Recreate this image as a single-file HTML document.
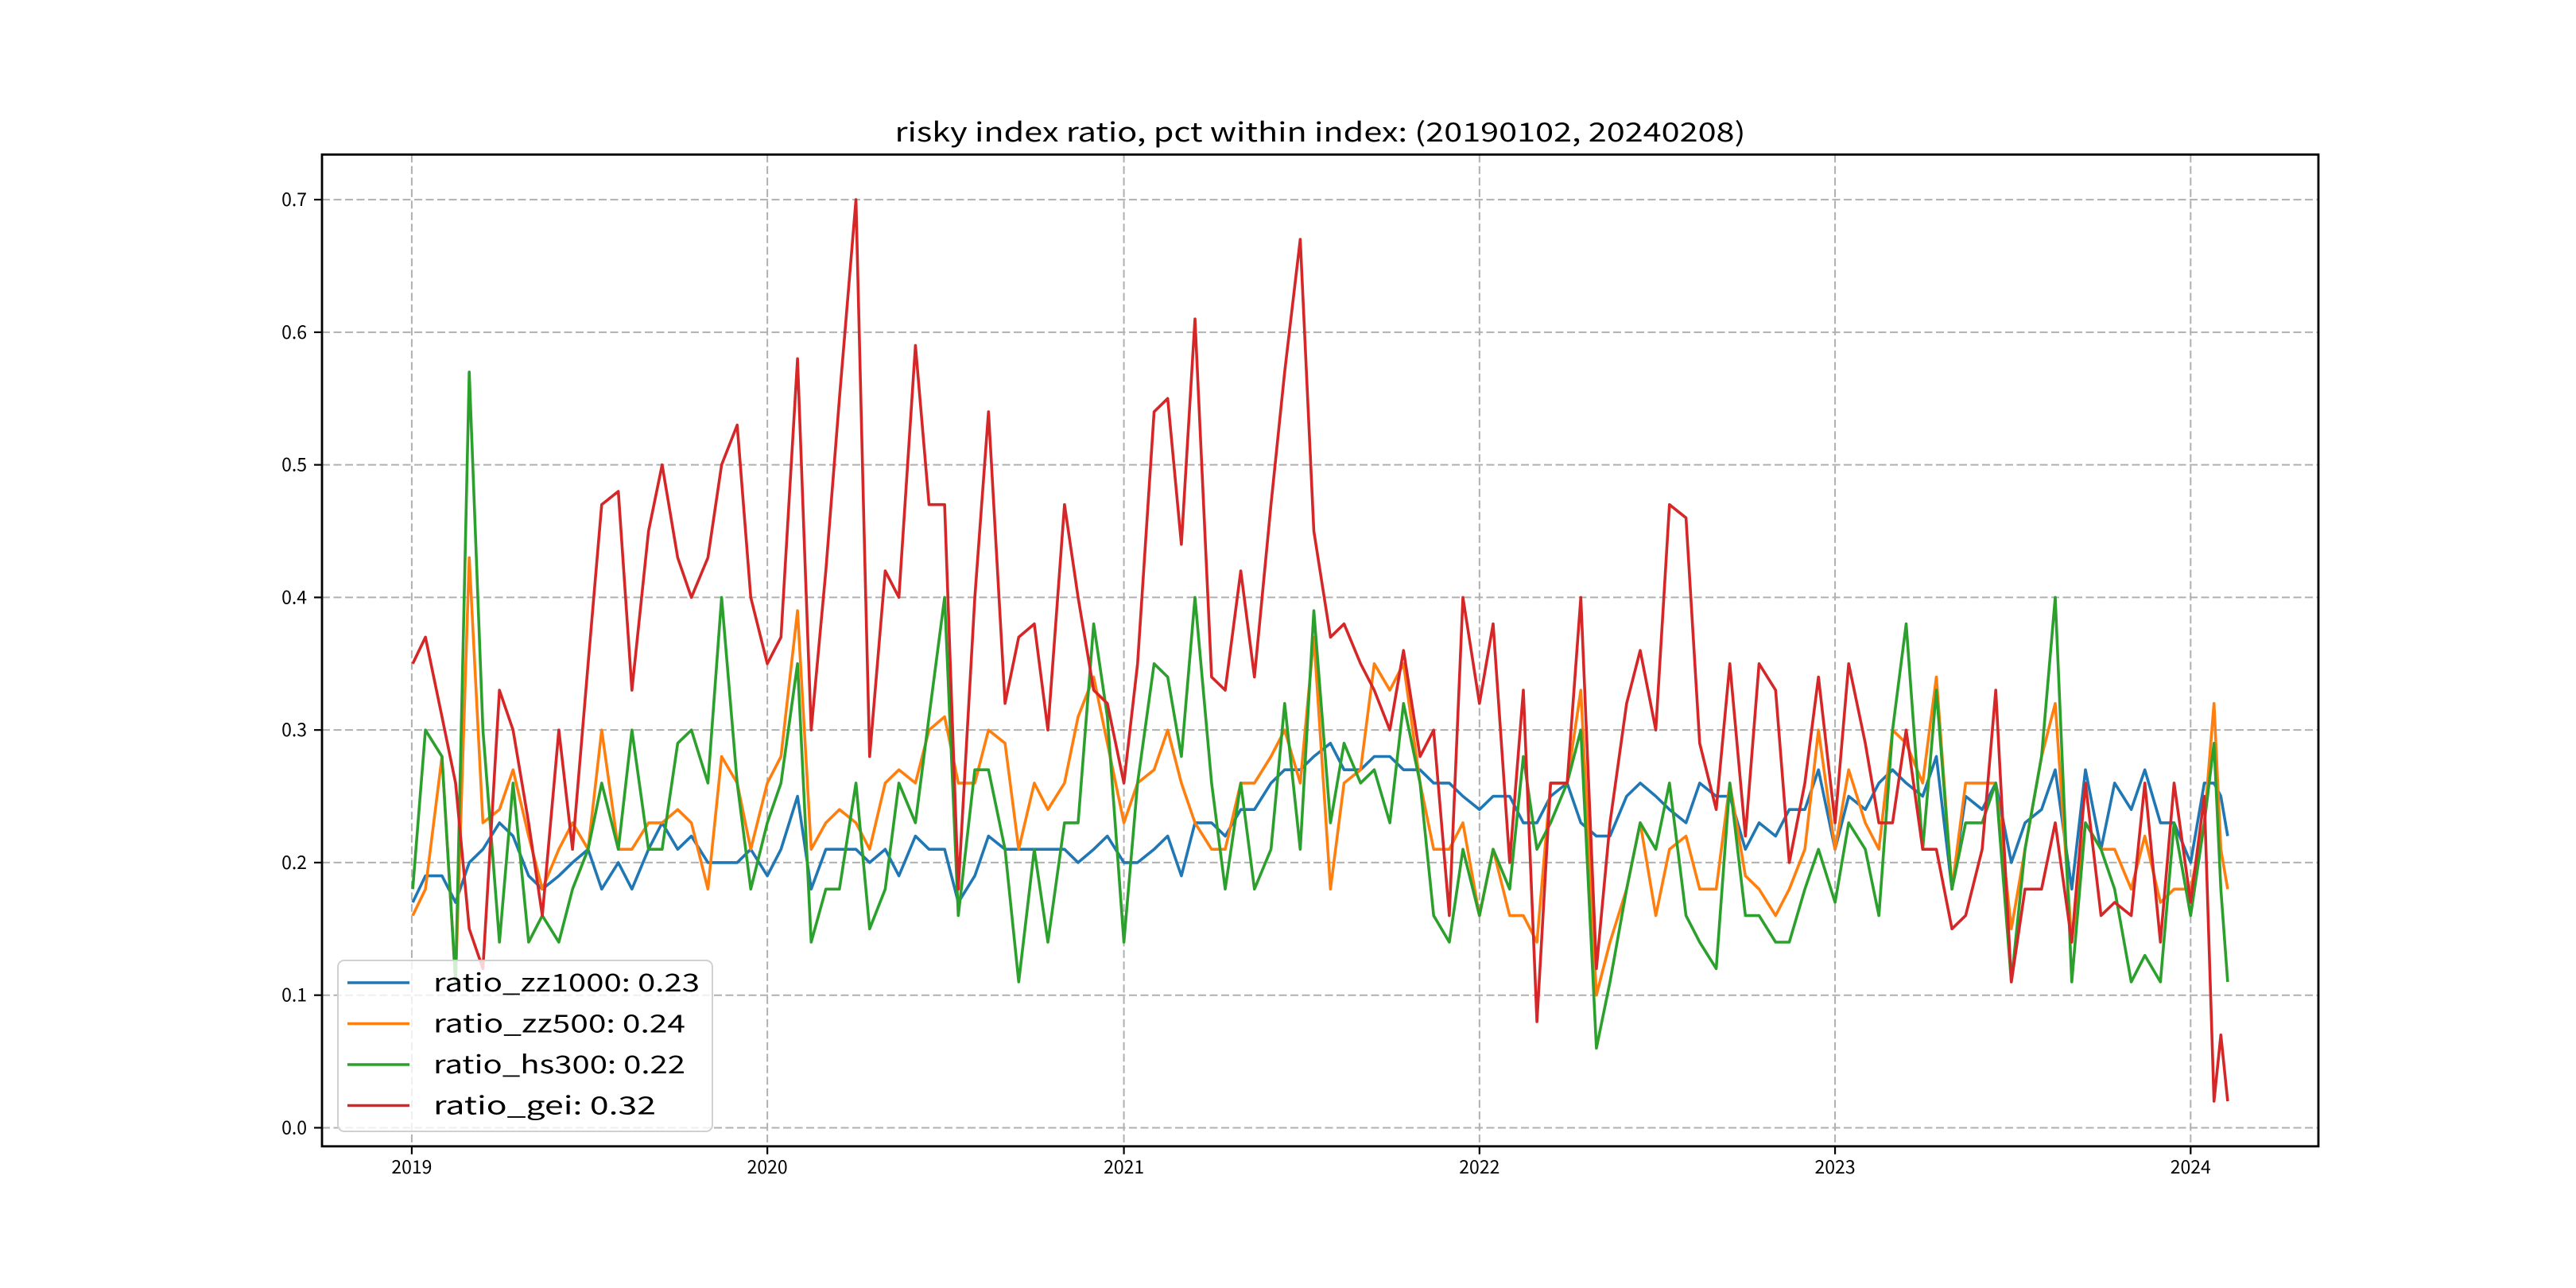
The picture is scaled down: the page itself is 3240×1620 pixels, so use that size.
<!DOCTYPE html>
<html><head><meta charset="utf-8"><title>risky index ratio</title>
<style>
html,body{margin:0;padding:0;background:#fff;}
svg{display:block;}
text{font-family:"WenQuanYi Zen Hei","Noto Sans CJK SC","Liberation Sans",sans-serif;fill:#000;}
</style></head>
<body>
<svg id="chart" xmlns="http://www.w3.org/2000/svg" width="3240" height="1620" viewBox="0 0 3240 1620">
  <rect x="0" y="0" width="3240" height="1620" fill="#fff"/>
  <g id="grid"></g>
  <g id="series"></g>
  <rect x="405" y="194.4" width="2511" height="1247.4" fill="none" stroke="#000" stroke-width="2.8"/>
  <g id="axes"></g>
  <text x="1660.5" y="178" font-size="33" text-anchor="middle" textLength="1070" lengthAdjust="spacingAndGlyphs">risky index ratio, pct within index: (20190102, 20240208)</text>
  <g id="legend"></g>
</svg>
<script>
// ---- data ----
const years = [2019, 2020, 2021, 2022, 2023];
const tailDates = ["2024-01-01", "2024-01-15", "2024-01-25", "2024-02-01", "2024-02-08"];
const seriesNames = ["ratio_zz1000", "ratio_zz500", "ratio_hs300", "ratio_gei"];
const seriesMeans = ["0.23", "0.24", "0.22", "0.32"];
const zz1000 = [
0.17,0.19,0.19,0.17,0.20,0.21,0.23,0.22,0.19,0.18,0.19,0.20,0.21,0.18,0.20,0.18,0.21,0.23,0.21,0.22,0.20,0.20,0.20,0.21,
0.19,0.21,0.25,0.18,0.21,0.21,0.21,0.20,0.21,0.19,0.22,0.21,0.21,0.17,0.19,0.22,0.21,0.21,0.21,0.21,0.21,0.20,0.21,0.22,
0.20,0.20,0.21,0.22,0.19,0.23,0.23,0.22,0.24,0.24,0.26,0.27,0.27,0.28,0.29,0.27,0.27,0.28,0.28,0.27,0.27,0.26,0.26,0.25,
0.24,0.25,0.25,0.23,0.23,0.25,0.26,0.23,0.22,0.22,0.25,0.26,0.25,0.24,0.23,0.26,0.25,0.25,0.21,0.23,0.22,0.24,0.24,0.27,
0.21,0.25,0.24,0.26,0.27,0.26,0.25,0.28,0.18,0.25,0.24,0.26,0.20,0.23,0.24,0.27,0.18,0.27,0.21,0.26,0.24,0.27,0.23,0.23,
0.20,0.26,0.26,0.25,0.22];
const zz500 = [
0.16,0.18,0.28,0.11,0.43,0.23,0.24,0.27,0.22,0.18,0.21,0.23,0.21,0.30,0.21,0.21,0.23,0.23,0.24,0.23,0.18,0.28,0.26,0.21,
0.26,0.28,0.39,0.21,0.23,0.24,0.23,0.21,0.26,0.27,0.26,0.30,0.31,0.26,0.26,0.30,0.29,0.21,0.26,0.24,0.26,0.31,0.34,0.29,
0.23,0.26,0.27,0.30,0.26,0.23,0.21,0.21,0.26,0.26,0.28,0.30,0.26,0.37,0.18,0.26,0.27,0.35,0.33,0.35,0.26,0.21,0.21,0.23,
0.16,0.21,0.16,0.16,0.14,0.26,0.26,0.33,0.10,0.14,0.18,0.23,0.16,0.21,0.22,0.18,0.18,0.26,0.19,0.18,0.16,0.18,0.21,0.30,
0.21,0.27,0.23,0.21,0.30,0.29,0.26,0.34,0.18,0.26,0.26,0.26,0.15,0.21,0.28,0.32,0.14,0.23,0.21,0.21,0.18,0.22,0.17,0.18,
0.18,0.23,0.32,0.21,0.18];
const hs300 = [
0.18,0.30,0.28,0.11,0.57,0.30,0.14,0.26,0.14,0.16,0.14,0.18,0.21,0.26,0.21,0.30,0.21,0.21,0.29,0.30,0.26,0.40,0.26,0.18,
0.23,0.26,0.35,0.14,0.18,0.18,0.26,0.15,0.18,0.26,0.23,0.31,0.40,0.16,0.27,0.27,0.21,0.11,0.21,0.14,0.23,0.23,0.38,0.31,
0.14,0.26,0.35,0.34,0.28,0.40,0.26,0.18,0.26,0.18,0.21,0.32,0.21,0.39,0.23,0.29,0.26,0.27,0.23,0.32,0.26,0.16,0.14,0.21,
0.16,0.21,0.18,0.28,0.21,0.23,0.26,0.30,0.06,0.11,0.18,0.23,0.21,0.26,0.16,0.14,0.12,0.26,0.16,0.16,0.14,0.14,0.18,0.21,
0.17,0.23,0.21,0.16,0.30,0.38,0.21,0.33,0.18,0.23,0.23,0.26,0.11,0.21,0.28,0.40,0.11,0.23,0.21,0.18,0.11,0.13,0.11,0.23,
0.16,0.23,0.29,0.18,0.11];
const gei = [
0.35,0.37,0.31,0.26,0.15,0.12,0.33,0.30,0.23,0.16,0.30,0.21,0.35,0.47,0.48,0.33,0.45,0.50,0.43,0.40,0.43,0.50,0.53,0.40,
0.35,0.37,0.58,0.30,0.42,0.55,0.70,0.28,0.42,0.40,0.59,0.47,0.47,0.18,0.40,0.54,0.32,0.37,0.38,0.30,0.47,0.40,0.33,0.32,
0.26,0.35,0.54,0.55,0.44,0.61,0.34,0.33,0.42,0.34,0.47,0.57,0.67,0.45,0.37,0.38,0.35,0.33,0.30,0.36,0.28,0.30,0.16,0.40,
0.32,0.38,0.20,0.33,0.08,0.26,0.26,0.40,0.12,0.23,0.32,0.36,0.30,0.47,0.46,0.29,0.24,0.35,0.22,0.35,0.33,0.20,0.26,0.34,
0.23,0.35,0.29,0.23,0.23,0.30,0.21,0.21,0.15,0.16,0.21,0.33,0.11,0.18,0.18,0.23,0.14,0.26,0.16,0.17,0.16,0.26,0.14,0.26,
0.17,0.25,0.02,0.07,0.02];
const yTicks = [0.0, 0.1, 0.2, 0.3, 0.4, 0.5, 0.6, 0.7];
const yTickLabels = ["0.0", "0.1", "0.2", "0.3", "0.4", "0.5", "0.6", "0.7"];
const xTickLabels = ["2019", "2020", "2021", "2022", "2023", "2024"];

// ---- build dates (categories) ----
const dates = [];
years.forEach(function(yr){
  for (let m = 1; m <= 12; m++) {
    const mm = (m < 10 ? "0" : "") + m;
    dates.push(yr + "-" + mm + (yr === 2019 && m === 1 ? "-02" : "-01"));
    dates.push(yr + "-" + mm + "-15");
  }
});
tailDates.forEach(function(d){ dates.push(d); });

// ---- scales ----
const NS = "http://www.w3.org/2000/svg";
const L = 405, R = 2916, T = 194.4, B = 1441.8;
function dayNum(s){ return Date.parse(s + "T00:00:00Z") / 86400000; }
const d0 = dayNum(dates[0]), d1 = dayNum(dates[dates.length - 1]);
const span = d1 - d0;
const xMin = d0 - 0.05 * span, xMax = d1 + 0.05 * span;
const allVals = zz1000.concat(zz500, hs300, gei);
const vMin = Math.min.apply(null, allVals), vMax = Math.max.apply(null, allVals);
const yMin = vMin - 0.05 * (vMax - vMin), yMax = vMax + 0.05 * (vMax - vMin);
function xScale(d){ return L + (dayNum(d) - xMin) / (xMax - xMin) * (R - L); }
function yScale(v){ return B - (v - yMin) / (yMax - yMin) * (B - T); }
function mk(tag, attrs, parent){
  const e = document.createElementNS(NS, tag);
  for (const k in attrs) e.setAttribute(k, attrs[k]);
  parent.appendChild(e);
  return e;
}

const grid = document.getElementById("grid");
const axes = document.getElementById("axes");
yTicks.forEach(function(v, i){
  const y = yScale(v);
  const g = mk("line", {x1: L, x2: R, y1: y, y2: y, stroke: "#b0b0b0", "stroke-width": 2, "stroke-dasharray": "10,4.5"}, grid);
  
  
  const t = mk("line", {x1: L - 10, x2: L, y1: y, y2: y, stroke: "#000", "stroke-width": 2.2}, axes);
  
  
  const lb = mk("text", {x: L - 19, y: y + 8, "font-size": 23, "text-anchor": "end"}, axes);
  lb.textContent = yTickLabels[i];
  
  
});
xTickLabels.forEach(function(lbl){
  const x = xScale(lbl + "-01-01");
  const g = mk("line", {x1: x, x2: x, y1: T, y2: B, stroke: "#b0b0b0", "stroke-width": 2, "stroke-dasharray": "10,4.5"}, grid);
  
  
  const t = mk("line", {x1: x, x2: x, y1: B, y2: B + 10, stroke: "#000", "stroke-width": 2.2}, axes);
  
  
  const lb = mk("text", {x: x, y: B + 34, "font-size": 23, "text-anchor": "middle"}, axes);
  lb.textContent = lbl;
  
  
});

const seriesData = [zz1000, zz500, hs300, gei];
const colors = ["#1f77b4", "#ff7f0e", "#2ca02c", "#d62728"];
const seriesG = document.getElementById("series");
seriesData.forEach(function(vals, si){
  let dstr = "";
  vals.forEach(function(v, i){
    dstr += (i ? "L" : "M") + xScale(dates[i]).toFixed(1) + "," + yScale(v).toFixed(1);
  });
  const p = mk("path", {d: dstr, fill: "none", stroke: colors[si], "stroke-width": 3.6, "stroke-linejoin": "round"}, seriesG);
  
  
});

const leg = document.getElementById("legend");
const box = mk("rect", {x: 425, y: 1208, width: 471, height: 215, rx: 8, ry: 8, fill: "#fff", "fill-opacity": 0.8, stroke: "#d0d0d0", "stroke-width": 2}, leg);


const textW = [335, 317, 317, 280];
seriesNames.forEach(function(n, i){
  const y = 1236 + i * 51.5;
  const ln = mk("line", {x1: 437, x2: 515, y1: y, y2: y, stroke: colors[i], "stroke-width": 3.6}, leg);
  
  
  const tx = mk("text", {x: 545, y: y + 11, "font-size": 31, textLength: textW[i], lengthAdjust: "spacingAndGlyphs"}, leg);
  tx.textContent = n + ": " + seriesMeans[i];
  
  
});
</script>
</body></html>
